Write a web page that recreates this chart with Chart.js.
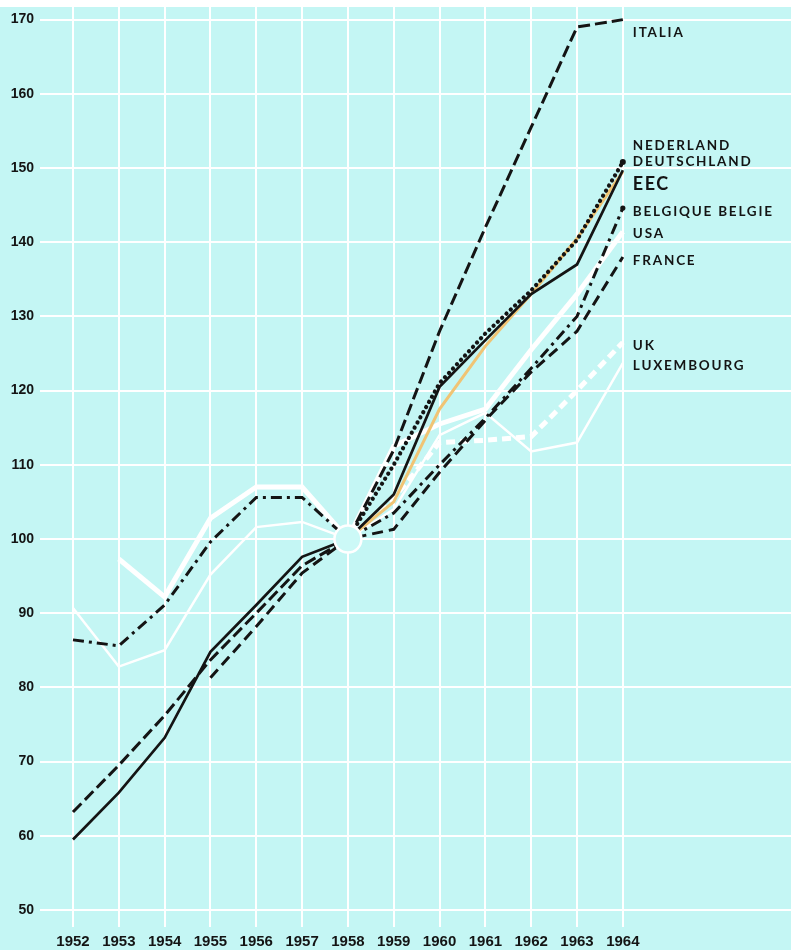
<!DOCTYPE html>
<html>
<head>
<meta charset="utf-8">
<title>Industrial production 1952-1964 (1958 = 100)</title>
<script src="https://cdn.jsdelivr.net/npm/chart.js"></script>
<style>
  body { margin: 0; background: #c4f6f4; }
  canvas { display: block; }
</style>
</head>
<body>
<canvas id="prodChart" width="791" height="950"></canvas>
<script>
// x axis years and y axis grid values
const years = [1952, 1953, 1954, 1955, 1956, 1957, 1958, 1959, 1960, 1961, 1962, 1963, 1964];
const yTicks = [50, 60, 70, 80, 90, 100, 110, 120, 130, 140, 150, 160, 170];

// index values, 1958 = 100
const italia      = [63.2, 69.5, 76.2, 83.7, 90.0, 96.4, 100, 112, 128, 142, 155.5, 169, 170];
const deutschland = [59.5, 65.8, 73.2, 84.8, 91.1, 97.6, 100, 106, 120.5, 126.8, 133, 137, 149.7];
const france      = [null, null, null, 81.3, 88.2, 95.4, 100, 101.3, 109, 116, 122.5, 128, 138];
const belgique    = [86.4, 85.6, 91.1, 99.6, 105.6, 105.6, 100, 103.5, 110, 116.3, 123, 130, 144.6];
const usa         = [null, 97.3, 92.2, 102.8, 107, 107, 100, 112.5, 115.5, 117.5, 125.5, 133, 141.4];
const luxembourg  = [90.7, 82.8, 85, 95.2, 101.6, 102.3, 100, 104, 114, 117, 111.8, 113, 123.7];
const uk          = [null, null, null, null, null, null, 100, 105.5, 113, 113.3, 113.8, 120, 126.5];
const nederland   = [null, null, null, null, null, null, 100, 110, 121, 127.7, 133.5, 140.3, 150.8];
const eec         = [null, null, null, null, null, null, 100, 105, 117.5, 126, 133, 140.5, 149.5];

// base year where every line meets
const baseYear = 1958;
const baseValue = 100;

const cyan = '#c4f6f4';
const ink = '#141414';

// names written at the right end of the lines (at = index value for the text height)
const endLabels = [
    { text: 'ITALIA', at: 168.3 },
    { text: 'NEDERLAND', at: 153 },
    { text: 'DEUTSCHLAND', at: 150.8 },
    { text: 'EEC', at: 147.8, big: true },
    { text: 'BELGIQUE BELGIE', at: 144.1 },
    { text: 'USA', at: 141.2 },
    { text: 'FRANCE', at: 137.5 },
    { text: 'UK', at: 126 },
    { text: 'LUXEMBOURG', at: 123.3 }
];

function toPoints(values) {
    return years.map((yr, i) => ({ x: yr, y: values[i] }));
}

// only the last point gets a dot (dotted and dash-dot lines end on a dot)
function endDot(size) {
    return ctx => ctx.dataIndex === years.length - 1 ? size : 0;
}

// fills the paper colour, white strip above the grid
const paperPlugin = {
    id: 'paper',
    beforeDraw(chart) {
        const ctx = chart.ctx;
        ctx.save();
        ctx.fillStyle = cyan;
        ctx.fillRect(0, 0, chart.width, chart.height);
        ctx.fillStyle = '#ffffff';
        ctx.fillRect(0, 0, chart.width, chart.chartArea.top);
        ctx.restore();
    }
};

// country names to the right of 1964
const namePlugin = {
    id: 'names',
    afterDatasetsDraw(chart) {
        const ctx = chart.ctx;
        const xs = chart.scales.x;
        const ys = chart.scales.y;
        const left = xs.getPixelForValue(years[years.length - 1]) + 10;
        ctx.save();
        ctx.fillStyle = ink;
        ctx.textBaseline = 'middle';
        endLabels.forEach(l => {
            ctx.font = l.big ? 'bold 18px Lato' : 'bold 13.5px Lato';
            ctx.letterSpacing = l.big ? '1.5px' : '1.8px';
            ctx.fillText(l.text, left, ys.getPixelForValue(l.at));
        });
        ctx.restore();
    }
};

const tickFont = { family: 'Liberation Sans', weight: 'bold' };

const prodChart = new Chart(document.getElementById('prodChart'), {
    type: 'line',
    data: {
        datasets: [
            // white lines underneath
            { label: 'USA', data: toPoints(usa), borderColor: '#ffffff', borderWidth: 5, order: 4 },
            { label: 'UK', data: toPoints(uk), borderColor: '#ffffff', borderWidth: 5, borderDash: [9, 5], order: 4 },
            { label: 'LUXEMBOURG', data: toPoints(luxembourg), borderColor: '#ffffff', borderWidth: 2.5, order: 4 },
            { label: 'EEC', data: toPoints(eec), borderColor: '#f0c474', borderWidth: 3, order: 3 },
            // black lines
            { label: 'ITALIA', data: toPoints(italia), borderColor: ink, borderWidth: 3, borderDash: [12, 5], order: 2 },
            { label: 'FRANCE', data: toPoints(france), borderColor: ink, borderWidth: 3, borderDash: [11, 6], order: 2 },
            { label: 'DEUTSCHLAND', data: toPoints(deutschland), borderColor: ink, borderWidth: 2.7, order: 2 },
            {
                label: 'NEDERLAND', data: toPoints(nederland), borderColor: ink, borderWidth: 4.2,
                borderDash: [0.1, 5.8], borderCapStyle: 'round',
                pointRadius: endDot(3), pointBackgroundColor: ink, pointBorderWidth: 0, order: 2
            },
            {
                label: 'BELGIQUE BELGIE', data: toPoints(belgique), borderColor: ink, borderWidth: 3,
                borderDash: [11, 5, 3, 5],
                pointRadius: endDot(2.6), pointBackgroundColor: ink, pointBorderWidth: 0, order: 2
            },
            // ring at 1958 = 100 on top of everything
            {
                label: 'base', data: [{ x: baseYear, y: baseValue }], showLine: false,
                pointRadius: 13.5, pointBackgroundColor: '#ccf9f7', pointBorderColor: '#ffffff',
                pointBorderWidth: 2.5, order: 1
            }
        ]
    },
    options: {
        responsive: false,
        devicePixelRatio: 1,
        animation: false,
        layout: { autoPadding: false, padding: { top: 7, left: 0, right: 0, bottom: 0 } },
        elements: {
            line: { tension: 0, fill: false },
            point: { radius: 0, hoverRadius: 0 }
        },
        plugins: {
            legend: { display: false },
            tooltip: { enabled: false }
        },
        scales: {
            x: {
                type: 'linear',
                min: 1951.28,
                max: 1967.67,
                afterBuildTicks: s => { s.ticks = years.map(v => ({ value: v })); },
                afterFit: s => {
                    s.height = 23;
                    s.paddingLeft = 0;
                    s.paddingRight = 0;
                },
                grid: { color: '#ffffff', lineWidth: 2, drawTicks: false },
                border: { display: false },
                ticks: {
                    padding: 6, color: ink, autoSkip: false, maxRotation: 0,
                    font: { ...tickFont, size: 15 },
                    callback: v => String(v)
                }
            },
            y: {
                type: 'linear',
                min: 47.7,
                max: 171.7,
                afterBuildTicks: s => { s.ticks = yTicks.map(v => ({ value: v })); },
                afterFit: s => {
                    s.width = 40;
                    s.paddingTop = 0;
                    s.paddingBottom = 0;
                },
                grid: { color: '#ffffff', lineWidth: 2, drawTicks: false },
                border: { display: false },
                ticks: {
                    padding: 6, color: ink,
                    font: { ...tickFont, size: 14 },
                    callback: v => String(v)
                }
            }
        }
    },
    plugins: [paperPlugin, namePlugin]
});
</script>
</body>
</html>
